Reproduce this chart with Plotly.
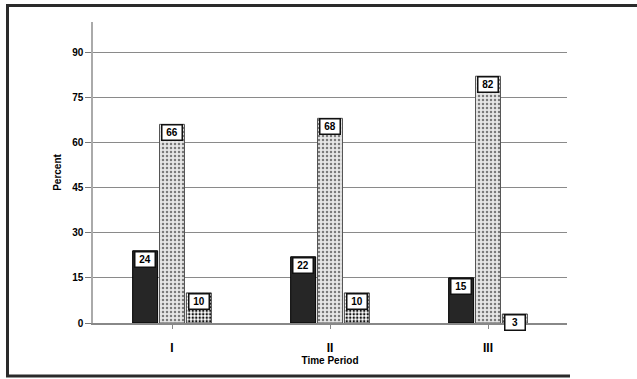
import plotly.graph_objects as go

categories = ["I", "II", "III"]
series_names = ["Group A", "Group B", "Group C"]
values_a = [24, 22, 15]
values_b = [66, 68, 82]
values_c = [10, 10, 3]
y_ticks = [0, 15, 30, 45, 60, 75, 90]

FONT = "Liberation Sans, Arial, sans-serif"

fig = go.Figure()
fig.add_trace(go.Bar(
    x=categories, y=values_a, name=series_names[0],
    marker=dict(color="#262626", line=dict(color="#000000", width=1)),
))
fig.add_trace(go.Bar(
    x=categories, y=values_b, name=series_names[1],
    marker=dict(color="#dcdcdc", line=dict(color="#555555", width=1),
                pattern=dict(shape=".", fillmode="replace", fgcolor="#7a7a7a",
                             bgcolor="#e6e6e6", size=4, solidity=0.3)),
))
fig.add_trace(go.Bar(
    x=categories, y=values_c, name=series_names[2],
    marker=dict(color="#ffffff", line=dict(color="#444444", width=1),
                pattern=dict(shape=".", fillmode="replace", fgcolor="#111111",
                             bgcolor="#ffffff", size=3.5, solidity=0.4)),
))

# value label boxes at the top of each bar
bargap = 0.49
slot = (1 - bargap) / 3
plot_w = 474
plot_h = 301
cat_px = plot_w / len(categories)
for s, vals in enumerate([values_a, values_b, values_c]):
    shift = (s - 1) * slot * cat_px
    for c, v in zip(categories, vals):
        fig.add_annotation(
            x=c, y=v, xref="x", yref="y", xshift=shift,
            yanchor="top", showarrow=False,
            text=f"<b>{v}</b>", font=dict(family=FONT, size=10, color="#000"),
            bgcolor="#ffffff", bordercolor="#111111", borderwidth=1.5,
            borderpad=1, width=17, height=12,
        )

# outer frame (left, top, bottom edges; right edge is cut off in the original)
def px_x(p):
    return (p - 93) / plot_w

def px_y(p):
    return (323 - p) / plot_h

frame = dict(color="#2a2a2a", width=3)
fig.add_shape(type="line", xref="paper", yref="paper",
              x0=px_x(7.5), x1=px_x(7.5), y0=px_y(376.5), y1=px_y(4), line=frame)
fig.add_shape(type="line", xref="paper", yref="paper",
              x0=px_x(6), x1=px_x(640), y0=px_y(5.5), y1=px_y(5.5), line=frame)
fig.add_shape(type="line", xref="paper", yref="paper",
              x0=px_x(6), x1=px_x(570), y0=px_y(376), y1=px_y(376), line=frame)

fig.update_layout(
    width=637, height=379,
    margin=dict(l=93, r=70, t=22, b=56),
    paper_bgcolor="white", plot_bgcolor="white",
    barmode="group", bargap=bargap, bargroupgap=0.07,
    showlegend=False,
    font=dict(family=FONT, color="#000"),
    xaxis=dict(
        showgrid=False, showline=True, linecolor="#888888", linewidth=1.5,
        ticks="outside", ticklen=4, tickcolor="#888888",
        ticktext=[f"<b>{c}</b>" for c in categories], tickvals=categories,
        tickfont=dict(size=12, family=FONT), ticklabelstandoff=9,
        title=dict(text="<b>Time Period</b>", font=dict(size=10, family=FONT), standoff=3),
    ),
    yaxis=dict(
        range=[0, 100], tickvals=y_ticks, ticktext=[f"<b>{t}</b>" for t in y_ticks],
        showgrid=True, gridcolor="#8a8a8a", gridwidth=1,
        showline=True, linecolor="#aaaaaa", linewidth=1.5,
        ticks="outside", ticklen=6, tickcolor="#777777",
        tickfont=dict(size=10, family=FONT),
        zeroline=False,
        title=dict(text="<b>Percent</b>", font=dict(size=10, family=FONT), standoff=9),
    ),
)

fig.write_html("out.html", config={"displayModeBar": False},
               post_script="document.body.style.margin='0';")
